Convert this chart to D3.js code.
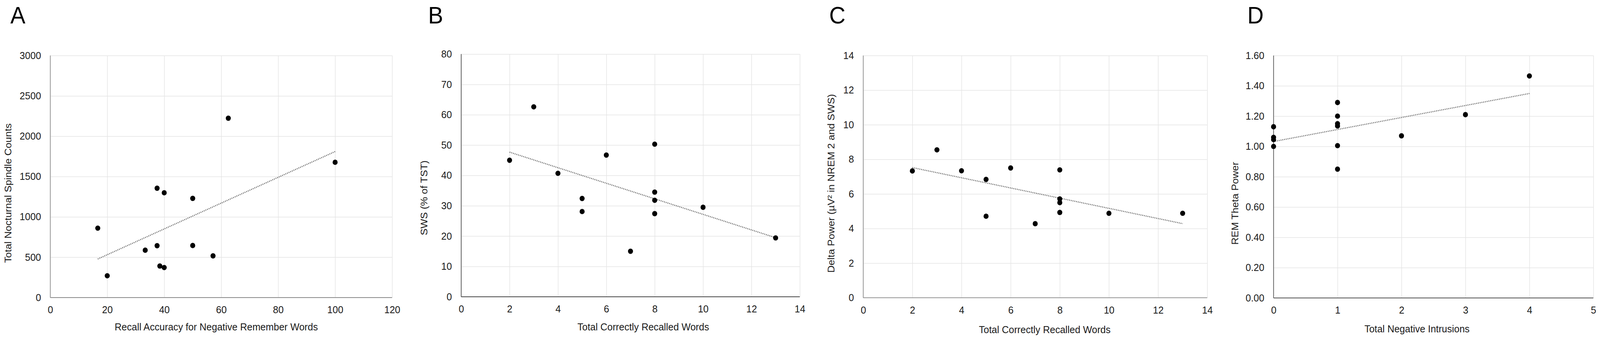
<!DOCTYPE html>
<html>
<head>
<meta charset="utf-8">
<script src="https://cdn.jsdelivr.net/npm/d3@7"></script>
<style>
  html, body { margin: 0; padding: 0; background: #fff; overflow: hidden; width: 100%; height: 100%; }
  svg { display: block; width: 100vw; height: 100vh; }
  text { font-family: "Liberation Sans", Arial, Helvetica, sans-serif; }
</style>
</head>
<body>
<svg id="chart" viewBox="0 0 4328 867" preserveAspectRatio="none"></svg>
<script>
// ---------------- DATA ----------------
// Panel A
const aX = [16.67, 20, 33.33, 37.5, 37.5, 38.46, 40, 40, 50, 50, 57.14, 62.5, 100];
const aY = [860, 270, 587, 1355, 643, 391, 1299, 372, 1229, 645, 517, 2223, 1677];
const aXTicks = [0, 20, 40, 60, 80, 100, 120];
const aYTicks = [0, 500, 1000, 1500, 2000, 2500, 3000];

// Panel B
const bX = [2, 3, 4, 5, 5, 6, 7, 8, 8, 8, 8, 10, 13];
const bY = [45.0, 62.6, 40.7, 32.4, 28.1, 46.7, 15.0, 50.3, 34.5, 31.8, 27.4, 29.5, 19.4];
const bXTicks = [0, 2, 4, 6, 8, 10, 12, 14];
const bYTicks = [0, 10, 20, 30, 40, 50, 60, 70, 80];

// Panel C
const cX = [2, 3, 4, 5, 5, 6, 7, 8, 8, 8, 8, 10, 13];
const cY = [7.33, 8.55, 7.34, 6.84, 4.71, 7.50, 4.28, 7.39, 5.71, 5.50, 4.93, 4.88, 4.88];
const cXTicks = [0, 2, 4, 6, 8, 10, 12, 14];
const cYTicks = [0, 2, 4, 6, 8, 10, 12, 14];

// Panel D
const dX = [0, 0, 0, 0, 1, 1, 1, 1, 1, 1, 2, 3, 4];
const dY = [1.13, 1.06, 1.045, 1.00, 1.29, 1.20, 1.15, 1.135, 1.005, 0.85, 1.07, 1.21, 1.465];
const dXTicks = [0, 1, 2, 3, 4, 5];
const dYTicks = [0, 0.2, 0.4, 0.6, 0.8, 1.0, 1.2, 1.4, 1.6];

// Text
const panelLetters = ["A", "B", "C", "D"];
const xTitles = ["Recall Accuracy for Negative Remember Words", "Total Correctly Recalled Words",
                 "Total Correctly Recalled Words", "Total Negative Intrusions"];
const yTitles = ["Total Nocturnal Spindle Counts", "SWS (% of TST)",
                 "Delta Power (\u00B5V\u00B2 in NREM 2 and SWS)", "REM Theta Power"];

// ---------------- LAYOUT ----------------
const panels = [
  { xs: aX, ys: aY, xt: aXTicks, yt: aYTicks, xd: [0, 120], yd: [0, 3000], fmt: d3.format("d"),
    xr: [136, 1060.6], yr: [761, 142], axisColor: "#8c8c8c",
    letter: { x: 28, y: 60 }, xTitle: { x: 585, y: 845 }, yTitle: { x: 31, y: 494 } },
  { xs: bX, ys: bY, xt: bXTicks, yt: bYTicks, xd: [0, 14], yd: [0, 80], fmt: d3.format("d"),
    xr: [1247.5, 2163.5], yr: [759, 138.3], axisColor: "#4a4a4a",
    letter: { x: 1158, y: 60 }, xTitle: { x: 1740, y: 845 }, yTitle: { x: 1156, y: 506 } },
  { xs: cX, ys: cY, xt: cXTicks, yt: cYTicks, xd: [0, 14], yd: [0, 14], fmt: d3.format("d"),
    xr: [2335, 3265.5], yr: [761.4, 142.1], axisColor: "#8c8c8c",
    letter: { x: 2243, y: 60 }, xTitle: { x: 2826, y: 852 }, yTitle: { x: 2257, y: 469 } },
  { xs: dX, ys: dY, xt: dXTicks, yt: dYTicks, xd: [0, 5], yd: [0, 1.6], fmt: d3.format(".2f"),
    xr: [3445, 4310], yr: [762, 142], axisColor: "#555555",
    letter: { x: 3374, y: 60 }, xTitle: { x: 3833, y: 850 }, yTitle: { x: 3350, y: 520 } }
];

const svg = d3.select("#chart");
const FS = 26;

function linReg(xs, ys) {
  const n = xs.length;
  const mx = d3.mean(xs), my = d3.mean(ys);
  let sxy = 0, sxx = 0;
  for (let i = 0; i < n; i++) { sxy += (xs[i] - mx) * (ys[i] - my); sxx += (xs[i] - mx) ** 2; }
  const m = sxy / sxx;
  return { m, b: my - m * mx };
}

panels.forEach((p, i) => {
  const x = d3.scaleLinear().domain(p.xd).range(p.xr);
  const y = d3.scaleLinear().domain(p.yd).range(p.yr);
  const g = svg.append("g");
  const w = p.xr[1] - p.xr[0], h = p.yr[0] - p.yr[1];

  // gridlines
  g.append("g").attr("transform", `translate(0,${p.yr[0]})`)
    .call(d3.axisBottom(x).tickValues(p.xt).tickSize(-h).tickFormat(""))
    .call(s => s.select(".domain").remove())
    .call(s => s.selectAll("line").attr("stroke", "#e4e4e4").attr("stroke-width", 1.5));
  g.append("g").attr("transform", `translate(${p.xr[0]},0)`)
    .call(d3.axisLeft(y).tickValues(p.yt).tickSize(-w).tickFormat(""))
    .call(s => s.select(".domain").remove())
    .call(s => s.selectAll("line").attr("stroke", "#e4e4e4").attr("stroke-width", 1.5));

  // axis lines
  g.append("line").attr("x1", p.xr[0]).attr("x2", p.xr[0]).attr("y1", p.yr[0]).attr("y2", p.yr[1])
    .attr("stroke", p.axisColor).attr("stroke-width", 1.8);
  g.append("line").attr("x1", p.xr[0]).attr("x2", p.xr[1]).attr("y1", p.yr[0]).attr("y2", p.yr[0])
    .attr("stroke", p.axisColor).attr("stroke-width", 1.8);

  // tick labels
  g.append("g").attr("transform", `translate(0,${p.yr[0]})`)
    .call(d3.axisBottom(x).tickValues(p.xt).tickSize(0).tickPadding(22).tickFormat(d3.format("d")))
    .call(s => s.select(".domain").remove())
    .call(s => s.selectAll("text").attr("font-size", FS).attr("fill", "#1a1a1a")
      .attr("font-family", "'Liberation Sans', Arial, sans-serif"));
  g.append("g").attr("transform", `translate(${p.xr[0]},0)`)
    .call(d3.axisLeft(y).tickValues(p.yt).tickSize(0).tickPadding(25).tickFormat(p.fmt))
    .call(s => s.select(".domain").remove())
    .call(s => s.selectAll("text").attr("font-size", FS).attr("fill", "#1a1a1a")
      .attr("font-family", "'Liberation Sans', Arial, sans-serif"));

  // trendline (least squares over the data range)
  const r = linReg(p.xs, p.ys);
  const x0 = d3.min(p.xs), x1 = d3.max(p.xs);
  g.append("line")
    .attr("x1", x(x0)).attr("y1", y(r.m * x0 + r.b))
    .attr("x2", x(x1)).attr("y2", y(r.m * x1 + r.b))
    .attr("stroke", "#6e6e6e").attr("stroke-width", 2.8)
    .attr("stroke-dasharray", "2.4 2.4");

  // points
  g.selectAll("circle.pt").data(p.xs.map((v, k) => [v, p.ys[k]])).join("circle")
    .attr("class", "pt")
    .attr("cx", d => x(d[0])).attr("cy", d => y(d[1]))
    .attr("r", 6.8).attr("fill", "#000");

  // titles
  g.append("text").attr("x", p.letter.x).attr("y", p.letter.y)
    .attr("font-size", 61).attr("fill", "#000").text(panelLetters[i]);
  g.append("text").attr("x", p.xTitle.x).attr("y", p.xTitle.y)
    .attr("text-anchor", "middle").attr("font-size", FS).attr("fill", "#1a1a1a").text(xTitles[i]);
  g.append("text").attr("transform", `translate(${p.yTitle.x},${p.yTitle.y}) rotate(-90)`)
    .attr("text-anchor", "middle").attr("font-size", FS).attr("fill", "#1a1a1a").text(yTitles[i]);
});
</script>
</body>
</html>
